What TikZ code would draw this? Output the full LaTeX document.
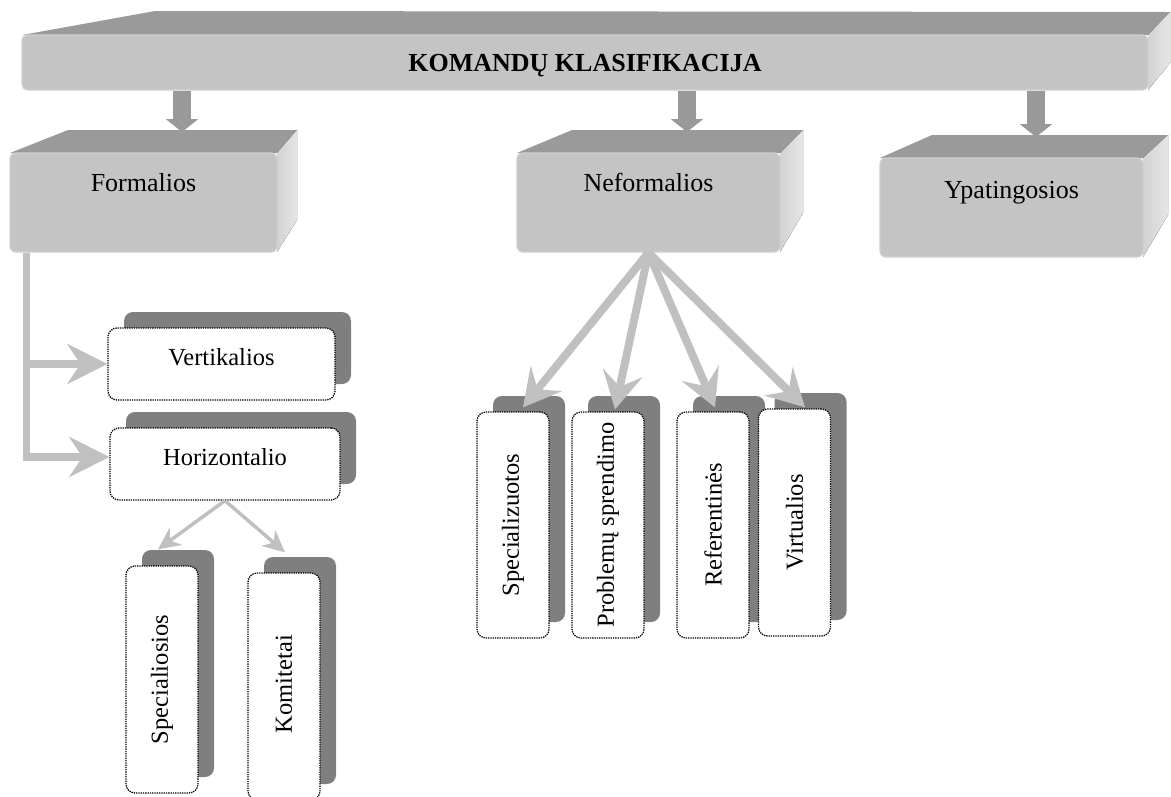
\documentclass[tikz,border=0pt]{standalone}
\usepackage{fontspec}
\usepackage{graphicx}
\setmainfont{Liberation Serif}
\usetikzlibrary{arrows.meta,shadows,calc}

\definecolor{faceGray}{HTML}{C4C4C4}
\definecolor{faceEdge}{HTML}{CFCFCF}
\definecolor{topGray}{HTML}{9A9A9A}
\definecolor{sideLight}{HTML}{E6E6E6}
\definecolor{sideDark}{HTML}{D2D2D2}
\definecolor{shadowGray}{HTML}{7F7F7F}
\definecolor{linkGray}{HTML}{C0C0C0}
\definecolor{blockGray}{HTML}{999999}

\tikzset{
  face/.style={fill=faceGray, draw=faceEdge, line width=1.2pt, rounded corners=6pt,
    inner sep=0pt, font=\fontsize{26}{30}\selectfont},
  topface/.style={fill=topGray},
  sideface/.style={left color=sideDark, right color=sideLight},
  card/.style={draw=black, densely dotted, line width=1.3pt, fill=white,
    rounded corners=9pt, inner sep=0pt, font=\fontsize{24.5}{28}\selectfont,
    general shadow={fill=shadowGray, shadow xshift=16pt, shadow yshift=16pt}},
  flatcard/.style={card, minimum width=#1, minimum height=72pt,
    text height=37pt, text depth=35pt},
  tallcard/.style={card, minimum width=72pt, minimum height=#1},
  blockarrow/.style={draw=blockGray, line width=18pt,
    -{Triangle[length=13pt,width=32pt]}},
  trunkline/.style={draw=linkGray, line width=7.5pt},
  trunkarrow/.style={trunkline, -{Stealth[length=40pt,width=40pt,inset=13pt]}},
  fanarrow/.style={draw=linkGray, line width=8pt,
    -{Stealth[length=37pt,width=40pt,inset=14pt]}},
  smallarrow/.style={draw=linkGray, line width=3.5pt,
    -{Stealth[length=22pt,width=21pt,inset=7pt]}},
}

\begin{document}
\begin{tikzpicture}[x=1pt,y=-1pt]
\useasboundingbox (0,0) rectangle (1171,796);
\clip (0,0) rectangle (1171,796);

% ---- title bar ----
\fill[topface] (22,35) -- (155,11) -- (1170,12) -- (1148,35) -- cycle;
\fill[sideface] (1148,35) -- (1170,12) -- (1170,63) -- (1148,90) -- cycle;
\node[face, minimum width=1126pt, text height=36.5pt, text depth=18.5pt,
  font=\fontsize{26}{30}\selectfont\bfseries] (bar) at (585,62.5) {KOMANDŲ KLASIFIKACIJA};

% entry points on the top faces of the three boxes
\coordinate (formIn) at (182,132);
\coordinate (neforIn) at (687,132);
\coordinate (ypatIn) at (1036,137);

\draw[blockarrow] (bar.south -| formIn) -- (formIn);
\draw[blockarrow] (bar.south -| neforIn) -- (neforIn);
\draw[blockarrow] (bar.south -| ypatIn) -- (ypatIn);

% ---- Formalios ----
\fill[topface] (10,153) -- (68,130) -- (297,130) -- (277,153) -- cycle;
\fill[sideface] (277,153) -- (297,130) -- (297,220) -- (277,252) -- cycle;
\node[face, minimum width=267pt, text height=38.5pt, text depth=60.5pt] (form) at (143.5,202.5) {Formalios};

% ---- Neformalios ----
\fill[topface] (517,153) -- (572,130) -- (803,130) -- (780,153) -- cycle;
\fill[sideface] (780,153) -- (803,130) -- (803,213) -- (780,252) -- cycle;
\node[face, minimum width=263pt, text height=38.5pt, text depth=60.5pt] (nefor) at (648.5,202.5) {Neformalios};

% ---- Ypatingosios ----
\fill[topface] (880,158) -- (932,135) -- (1168,135) -- (1143,158) -- cycle;
\fill[sideface] (1143,158) -- (1168,135) -- (1168,215) -- (1143,257) -- cycle;
\node[face, minimum width=263pt, text height=40.5pt, text depth=58.5pt] (ypat) at (1011.5,207.5) {Ypatingosios};

% ---- kinds of formal teams ----
\node[flatcard=227pt] (vert) at (221.5,364) {Vertikalios};
\node[flatcard=230pt] (hor) at (225,464) {Horizontalio};

\node[tallcard=227pt] (spec) at (162,679.5) {\rotatebox{90}{Specialiosios}};
\node[tallcard=227pt, text height=160pt, text depth=67pt] (kom) at (284,686.5) {\rotatebox{90}{Komitetai}};

% ---- kinds of informal teams ----
\node[tallcard=226pt] (spz) at (513,525) {\rotatebox{90}{Specializuotos}};
\node[tallcard=226pt] (prob) at (608,525) {\rotatebox{90}{Problemų sprendimo}};
\node[tallcard=226pt] (ref) at (713,525) {\rotatebox{90}{Referentinės}};
\node[tallcard=227pt] (virt) at (794.5,522.5) {\rotatebox{90}{Virtualios}};

% ---- connectors ----
\coordinate (trunk) at ($(form.south west)+(17,0)$);
\draw[trunkarrow] (trunk) |- ([yshift=7pt]hor.west);
\draw[trunkarrow] (trunk |- vert.west) -- (vert.west);

\draw[smallarrow] (hor.south) -- ([xshift=-4pt,yshift=16pt]spec.north);
\draw[smallarrow] (hor.south) -- ([xshift=1pt,yshift=20pt]kom.north);

\draw[fanarrow] (nefor.south) -- ([xshift=10pt,yshift=4pt]spz.north);
\draw[fanarrow] (nefor.south) -- ([xshift=7pt,yshift=2pt]prob.north);
\draw[fanarrow] (nefor.south) -- ([xshift=2pt,yshift=4pt]ref.north);
\draw[fanarrow] (nefor.south) -- ([xshift=10.5pt,yshift=1pt]virt.north);
\end{tikzpicture}
\end{document}
